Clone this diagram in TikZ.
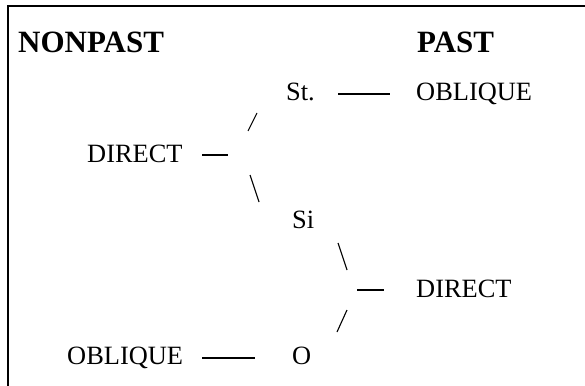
\documentclass[tikz,border=0pt]{standalone}
\usepackage{fontspec}
\setmainfont{Liberation Serif}
\begin{document}
\begin{tikzpicture}[x=1pt,y=-1pt,
  lbl/.style={inner sep=0pt,anchor=base west,font=\fontsize{26.4}{30}\selectfont},
  hdr/.style={inner sep=0pt,anchor=base west,font=\fontsize{31}{36}\selectfont\bfseries},
  conn/.style={line width=1.1pt},
  frameline/.style={line width=2pt,line join=miter}]
\useasboundingbox (0,0) rectangle (585,385);
% frame (left and top edges)
\coordinate (fa) at (8.3,386);
\coordinate (fb) at (8.3,6);
\coordinate (fc) at (586,6);
\draw[frameline] (fa) -- (fb) -- (fc);
% headings
\node[hdr] (np) at (18,53) {NONPAST};
\node[hdr] (p) at (417,53) {PAST};
% labels
\node[lbl] (st) at (286,100) {St.};
\node[lbl] (ob1) at (416,100) {OBLIQUE};
\node[lbl] (d1) at (87,162) {DIRECT};
\node[lbl] (si) at (292,228.5) {Si};
\node[lbl] (d2) at (416,297) {DIRECT};
\node[lbl] (ob2) at (67,364) {OBLIQUE};
\node[lbl] (o) at (292,364) {O};
% connector end points
\coordinate (c1a) at (338,94);  \coordinate (c1b) at (390,94);
\coordinate (c2a) at (202,155); \coordinate (c2b) at (228,155);
\coordinate (c3a) at (248,131); \coordinate (c3b) at (257,113);
\coordinate (c4a) at (250,175); \coordinate (c4b) at (259,202);
\coordinate (c5a) at (338,243); \coordinate (c5b) at (347,270);
\coordinate (c6a) at (357,290); \coordinate (c6b) at (384,290);
\coordinate (c7a) at (337,332); \coordinate (c7b) at (347,310);
\coordinate (c8a) at (202,358); \coordinate (c8b) at (255,358);
% connectors
\draw[conn] (c1a) -- (c1b);
\draw[conn] (c2a) -- (c2b);
\draw[conn] (c3a) -- (c3b);
\draw[conn] (c4a) -- (c4b);
\draw[conn] (c5a) -- (c5b);
\draw[conn] (c6a) -- (c6b);
\draw[conn] (c7a) -- (c7b);
\draw[conn] (c8a) -- (c8b);
\end{tikzpicture}
\end{document}
